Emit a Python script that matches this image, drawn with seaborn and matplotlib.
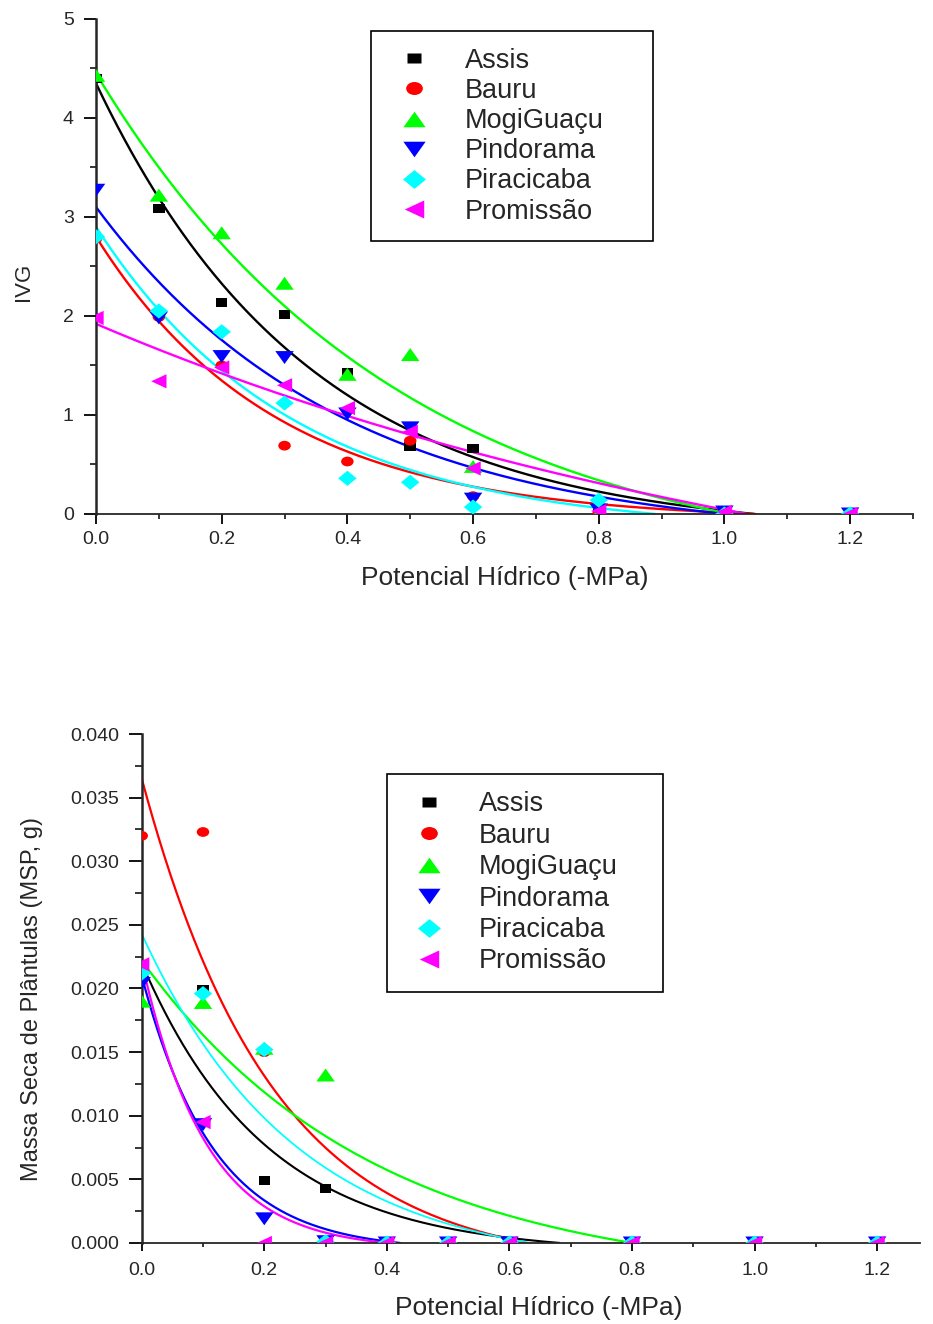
import numpy as np
import matplotlib
matplotlib.use("Agg")
import matplotlib.pyplot as plt
import seaborn as sns
from matplotlib.path import Path
from matplotlib.markers import MarkerStyle
from matplotlib.lines import Line2D
from matplotlib.ticker import MultipleLocator, FormatStrFormatter

sns.set_style("ticks")
plt.rcParams['font.family'] = ['Liberation Sans', 'DejaVu Sans']

# ---- data ----
sites = ['Assis', 'Bauru', 'MogiGuaçu', 'Pindorama', 'Piracicaba', 'Promissão']
colors = ['#000000', '#FF0000', '#00FF00', '#0000FF', '#00FFFF', '#FF00FF']
potencial = [0.0, 0.1, 0.2, 0.3, 0.4, 0.5, 0.6, 0.8, 1.0, 1.2]

# IVG (top panel)
ivg_assis = [4.40, 3.09, 2.14, 2.01, 1.43, 0.68, 0.66, 0.0, 0.0, 0.0]
ivg_bauru = [2.78, 1.99, 1.50, 0.69, 0.53, 0.74, 0.18, 0.01, 0.0, 0.0]
ivg_mogi = [4.43, 3.22, 2.84, 2.33, 1.41, 1.61, 0.48, 0.0, 0.0, 0.0]
ivg_pindo = [3.27, 1.98, 1.59, 1.58, 1.01, 0.87, 0.15, 0.04, 0.02, 0.0]
ivg_pira = [2.80, 2.05, 1.84, 1.12, 0.36, 0.32, 0.07, 0.14, 0.0, 0.0]
ivg_prom = [1.98, 1.34, 1.48, 1.30, 1.07, 0.83, 0.46, 0.03, 0.02, 0.0]

# MSP (bottom panel)
msp_assis = [0.0218, 0.01995, 0.0049, 0.00425, 0.0, 0.0, 0.0, 0.0, 0.0, 0.0]
msp_bauru = [0.0320, 0.0323, 0.0150, 0.0, 0.0, 0.0, 0.0, 0.0, 0.0, 0.0]
msp_mogi = [0.0190, 0.0189, 0.0153, 0.0132, 0.0, 0.0, 0.0, 0.0, 0.0, 0.0]
msp_pindo = [0.0204, 0.0093, 0.0019, 0.0001, 0.0, 0.0, 0.0, 0.0, 0.0, 0.0]
msp_pira = [0.0212, 0.0196, 0.0152, 0.0001, 0.0, 0.0, 0.0, 0.0, 0.0, 0.0]
msp_prom = [0.0219, 0.0095, 0.0, 0.0, 0.0, 0.0, 0.0, 0.0, 0.0, 0.0]

# exponential decay fits y = y0 + A*exp(-k*x), parameters
ivg_fit_A = [4.562, 2.871, 5.08, 3.362, 3.08, 3.457]
ivg_fit_k = [2.93, 3.524, 2.07, 2.55, 3.19, 0.783]
ivg_fit_y0 = [-0.212, -0.071, -0.63, -0.262, -0.18, -1.537]

msp_fit_A = [0.0228, 0.03856, 0.02527, 0.0216, 0.02644, 0.0226]
msp_fit_k = [4.908, 4.656, 2.634, 8.5, 3.963, 9.5]
msp_fit_y0 = [-0.0008, -0.00206, -0.00307, -0.0006, -0.00215, -0.0005]

ivg_data = [ivg_assis, ivg_bauru, ivg_mogi, ivg_pindo, ivg_pira, ivg_prom]
msp_data = [msp_assis, msp_bauru, msp_mogi, msp_pindo, msp_pira, msp_prom]

# ---- marker shapes (slightly wide, like the original) ----
ellipse = Path(Path.unit_circle().vertices * [1.0, 0.78], Path.unit_circle().codes)
markers = [
    MarkerStyle([(-1, -0.78), (1, -0.78), (1, 0.78), (-1, 0.78)]),
    MarkerStyle(ellipse),
    MarkerStyle([(-1, -0.7), (1, -0.7), (0, 0.7)]),
    MarkerStyle([(-1, 0.7), (1, 0.7), (0, -0.7)]),
    MarkerStyle([(-1, 0), (0, 0.82), (1, 0), (0, -0.82)]),
    MarkerStyle([(-1, 0), (1, 0.93), (1, -0.93)]),
]
msizes = [8.3, 9.0, 13.3, 13.3, 13.3, 11.0]
leg_msizes = [10.0, 12.0, 16.0, 16.0, 16.5, 14.0]

fig = plt.figure(figsize=(9.33, 13.24), dpi=100)
ax1 = fig.add_axes([0.1029, 0.6118, 0.8757, 0.3739])
ax2 = fig.add_axes([0.1519, 0.0612, 0.8342, 0.3844])


def draw_panel(ax, data, fA, fk, fy0, xmax, lw):
    xg = np.linspace(0, xmax, 800)
    for i in range(len(sites)):
        yg = fy0[i] + fA[i] * np.exp(-fk[i] * xg)
        keep = yg >= 0
        sns.lineplot(x=xg[keep], y=yg[keep], ax=ax, color=colors[i], lw=lw[i],
                     legend=False, estimator=None, sort=False, zorder=2)
    for i in range(len(sites)):
        sns.scatterplot(x=potencial, y=data[i], ax=ax, marker=markers[i],
                        s=msizes[i] ** 2, color=colors[i], edgecolor='none',
                        linewidth=0, zorder=3)


def style_axes(ax, xmax, ymax, ymaj, ymin, yfmt, ylen, xlen, ypad, xpad):
    ax.set_xlim(0, xmax)
    ax.set_ylim(0, ymax)
    ax.xaxis.set_major_locator(MultipleLocator(0.2))
    ax.xaxis.set_minor_locator(MultipleLocator(0.1))
    ax.yaxis.set_major_locator(MultipleLocator(ymaj))
    ax.yaxis.set_minor_locator(MultipleLocator(ymin))
    ax.xaxis.set_major_formatter(FormatStrFormatter('%.1f'))
    ax.yaxis.set_major_formatter(FormatStrFormatter(yfmt))
    sns.despine(ax=ax)
    ax.spines['left'].set_linewidth(1.8)
    ax.spines['bottom'].set_linewidth(1.3)
    ax.tick_params(axis='y', which='major', direction='out', length=ylen, width=1.3,
                   labelsize=14, pad=ypad, color='black')
    ax.tick_params(axis='y', which='minor', direction='out', length=ylen / 2, width=1.3)
    ax.tick_params(axis='x', which='major', direction='out', length=xlen, width=1.3,
                   labelsize=14, pad=xpad, color='black')
    ax.tick_params(axis='x', which='minor', direction='out', length=xlen / 2, width=1.3)
    ax.set_facecolor('white')


draw_panel(ax1, ivg_data, ivg_fit_A, ivg_fit_k, ivg_fit_y0, 1.3, [1.7] * 6)
style_axes(ax1, 1.3001, 5, 1, 0.5, '%d', 9, 7, 7, 5)
ax1.set_xlabel('Potencial Hídrico (-MPa)', fontsize=19)
ax1.set_ylabel('IVG', fontsize=16)
ax1.xaxis.set_label_coords(0.5, -0.129)
ax1.xaxis.label.set_va('center')
ax1.yaxis.set_label_coords(-0.089, 0.469)
ax1.yaxis.label.set_va('center')

draw_panel(ax2, msp_data, msp_fit_A, msp_fit_k, msp_fit_y0, 1.27, [1.5, 1.6, 1.6, 1.6, 1.3, 1.6])
style_axes(ax2, 1.27, 0.040, 0.005, 0.0025, '%.3f', 9.5, 6, 7, 8)
ax2.set_xlabel('Potencial Hídrico (-MPa)', fontsize=19)
ax2.set_ylabel('Massa Seca de Plântulas (MSP, g)', fontsize=17)
ax2.xaxis.set_label_coords(0.51, -0.128)
ax2.xaxis.label.set_va('center')
ax2.yaxis.set_label_coords(-0.141, 0.479)
ax2.yaxis.label.set_va('center')

handles = [Line2D([], [], ls='none', marker=markers[i], ms=leg_msizes[i],
                  mfc=colors[i], mec='none') for i in range(len(sites))]

# (axes, anchor, labelspacing, borderpad, handlelength, handletextpad)
legend_cfg = [(ax1, (0.3366, 0.9758, 0.345, 0), 0.155, 0.62, 1.93, 0.92),
              (ax2, (0.3156, 0.9214, 0.3539, 0), 0.20, 0.64, 1.82, 0.93)]
for ax, anchor, lsp, bp, hl, htp in legend_cfg:
    leg = ax.legend(handles, sites, loc='upper left', bbox_to_anchor=anchor,
                    mode='expand', borderaxespad=0, fontsize=19.5, frameon=True,
                    fancybox=False, framealpha=1, edgecolor='black',
                    borderpad=bp, handlelength=hl, handletextpad=htp,
                    labelspacing=lsp, numpoints=1)
    leg.get_frame().set_linewidth(1.2)

fig.savefig('out.png', dpi=100)
